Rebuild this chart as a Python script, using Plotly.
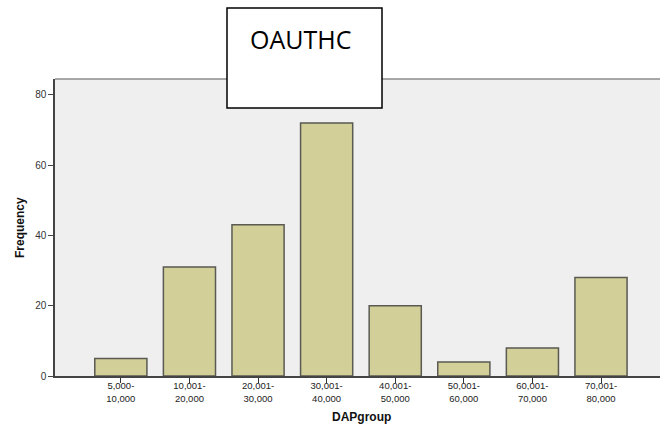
import plotly.graph_objects as go

categories = ["5,000-<br>10,000", "10,001-<br>20,000", "20,001-<br>30,000", "30,001-<br>40,000",
              "40,001-<br>50,000", "50,001-<br>60,000", "60,001-<br>70,000", "70,001-<br>80,000"]
frequency = [5, 31, 43, 72, 20, 4, 8, 28]
y_ticks = [0, 20, 40, 60, 80]

fig = go.Figure(go.Bar(
    x=list(range(len(categories))), y=frequency, width=0.76,
    marker=dict(color="#d3cf98", line=dict(color="#5a5a52", width=1.5)),
))

L, R, T, B = 55, 1, 79, 54
W, H = 661, 430
pw, ph = W - L - R, H - T - B

def px(x):
    return (x - L) / pw

def py(y):
    return (H - B - y) / ph

fig.add_shape(type="rect", xref="paper", yref="paper",
              x0=px(227), x1=px(382), y0=py(108), y1=py(8),
              fillcolor="white", line=dict(color="black", width=1.5), layer="above")
fig.add_annotation(xref="paper", yref="paper", x=px(300), y=py(39), text="OAUTHC",
                   showarrow=False, font=dict(family="Open Sans", size=25, color="black"),
                   xanchor="center", yanchor="middle")
fig.add_annotation(xref="paper", yref="paper", x=px(361), y=py(417), text="<b>DAPgroup</b>",
                   showarrow=False, font=dict(family="Liberation Sans", size=12, color="#111"),
                   xanchor="center", yanchor="middle")
fig.add_annotation(xref="paper", yref="paper", x=px(20), y=py(228), text="<b>Frequency</b>",
                   showarrow=False, font=dict(family="Liberation Sans", size=12, color="#111"),
                   textangle=-90, xanchor="center", yanchor="middle")

fig.update_layout(
    width=W, height=H, margin=dict(l=L, r=R, t=T, b=B),
    paper_bgcolor="white", plot_bgcolor="#efefef", showlegend=False,
    font=dict(family="Liberation Sans", color="#333"),
    xaxis=dict(range=[-0.96, 7.86], tickvals=list(range(len(categories))), ticktext=categories,
               ticks="outside", ticklen=5, tickcolor="#333", showgrid=False, zeroline=False,
               showline=True, linecolor="#444", linewidth=1.5, mirror=False, automargin=False,
               tickfont=dict(size=9.5, color="#222"), ticklabelstandoff=-5),
    yaxis=dict(range=[0, 84.5], tickvals=y_ticks, ticks="outside", ticklen=5, tickcolor="#444",
               showgrid=False, zeroline=False, showline=True, linecolor="#444", linewidth=1.5,
               automargin=False, tickfont=dict(size=10, color="#333")),
)
fig.add_shape(type="line", xref="paper", yref="paper", x0=0, x1=1, y0=1, y1=1,
              line=dict(color="#8c8c8c", width=1.5), layer="below")

fig.write_html("out.html", config={"displayModeBar": False},
               post_script="document.body.style.margin='0';document.body.style.overflow='hidden';")
